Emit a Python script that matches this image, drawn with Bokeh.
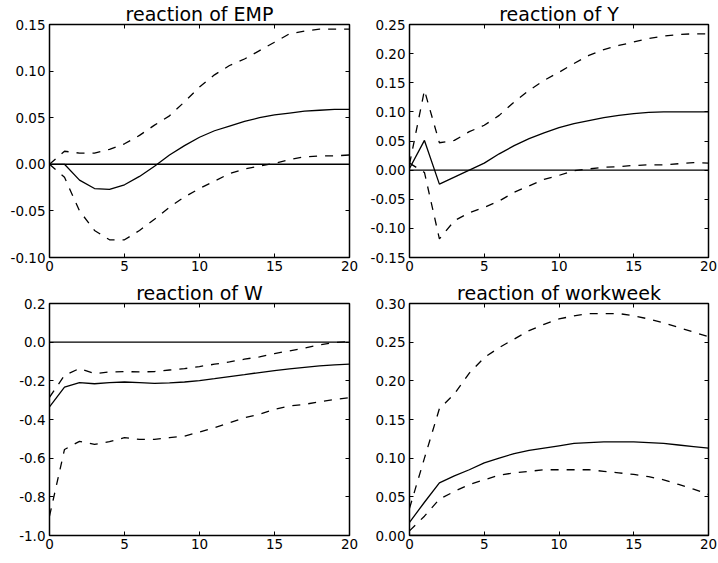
from bokeh.plotting import figure
from bokeh.layouts import gridplot
from bokeh.models import (Range1d, FixedTicker, LinearAxis, PrintfTickFormatter,
                          ColumnDataSource)
from bokeh.embed import file_html
from bokeh.resources import INLINE

steps = list(range(21))

emp_mid = [0, 0, -0.017, -0.026, -0.027, -0.022, -0.013, -0.002, 0.010, 0.020, 0.029,
           0.036, 0.041, 0.046, 0.050, 0.053, 0.055, 0.057, 0.058, 0.059, 0.059]
emp_hi = [0, 0.014, 0.012, 0.012, 0.016, 0.022, 0.031, 0.042, 0.052, 0.067, 0.083,
          0.096, 0.106, 0.113, 0.122, 0.131, 0.140, 0.143, 0.145, 0.145, 0.145]
emp_lo = [0, -0.014, -0.050, -0.071, -0.081, -0.081, -0.071, -0.059, -0.046, -0.035, -0.026,
          -0.018, -0.010, -0.005, -0.002, 0.001, 0.005, 0.008, 0.009, 0.009, 0.010]

y_mid = [0.003, 0.051, -0.024, -0.012, 0.0, 0.012, 0.028, 0.042, 0.054, 0.064, 0.073,
         0.080, 0.085, 0.090, 0.094, 0.097, 0.099, 0.100, 0.100, 0.100, 0.100]
y_hi = [0.010, 0.137, 0.047, 0.051, 0.066, 0.077, 0.094, 0.117, 0.137, 0.154, 0.168,
        0.183, 0.197, 0.207, 0.214, 0.220, 0.226, 0.230, 0.233, 0.234, 0.234]
y_lo = [0.012, -0.004, -0.118, -0.087, -0.073, -0.064, -0.053, -0.038, -0.027, -0.016, -0.009,
        -0.001, 0.002, 0.005, 0.006, 0.008, 0.009, 0.009, 0.011, 0.013, 0.012]

w_mid = [-0.335, -0.232, -0.209, -0.215, -0.209, -0.206, -0.209, -0.213, -0.211, -0.206, -0.199,
         -0.189, -0.178, -0.168, -0.157, -0.147, -0.138, -0.130, -0.123, -0.117, -0.114]
w_hi = [-0.285, -0.172, -0.136, -0.163, -0.154, -0.152, -0.154, -0.152, -0.144, -0.137, -0.126,
        -0.114, -0.102, -0.088, -0.076, -0.059, -0.045, -0.031, -0.014, -0.002, 0.003]
w_lo = [-0.900, -0.555, -0.513, -0.529, -0.515, -0.494, -0.503, -0.503, -0.494, -0.486, -0.465,
        -0.443, -0.417, -0.391, -0.373, -0.347, -0.330, -0.322, -0.308, -0.296, -0.287]

ww_mid = [0.017, 0.043, 0.068, 0.077, 0.085, 0.094, 0.100, 0.106, 0.110, 0.113, 0.116,
          0.119, 0.120, 0.121, 0.121, 0.121, 0.120, 0.119, 0.117, 0.115, 0.113]
ww_hi = [0.035, 0.100, 0.164, 0.183, 0.210, 0.230, 0.243, 0.254, 0.265, 0.273, 0.280,
         0.284, 0.287, 0.287, 0.287, 0.284, 0.280, 0.275, 0.269, 0.263, 0.257]
ww_lo = [0.006, 0.025, 0.047, 0.057, 0.066, 0.072, 0.078, 0.081, 0.083, 0.085, 0.085,
         0.085, 0.085, 0.083, 0.081, 0.079, 0.076, 0.072, 0.066, 0.060, 0.053]

titles = ["reaction of EMP", "reaction of Y", "reaction of W", "reaction of workweek"]
x_ticks = [0, 5, 10, 15, 20]
emp_ticks = [-0.10, -0.05, 0.0, 0.05, 0.10, 0.15]
y_ticks = [-0.15, -0.10, -0.05, 0.0, 0.05, 0.10, 0.15, 0.20, 0.25]
w_ticks = [-1.0, -0.8, -0.6, -0.4, -0.2, 0.0, 0.2]
ww_ticks = [0.0, 0.05, 0.10, 0.15, 0.20, 0.25, 0.30]

FONT = "DejaVu Sans"


def style_axis(ax, ticks, show_labels=True, standoff=4):
    ax.axis_line_color = None
    ax.major_tick_in = 4
    ax.major_tick_out = 0
    ax.minor_tick_in = 0
    ax.minor_tick_out = 0
    ax.major_tick_line_color = "black"
    ax.major_tick_line_width = 1
    ax.minor_tick_line_color = None
    if show_labels:
        ax.major_label_text_font = FONT
        ax.major_label_text_font_size = "13.5px"
        ax.major_label_text_color = "black"
        ax.major_label_standoff = standoff
    else:
        ax.major_label_overrides = {t: "" for t in ticks}
        ax.major_label_standoff = 0


def make_panel(title, yticks, fmt, mid, hi, lo, fw, fh, mbl, mbr, mbt, mbb):
    p = figure(frame_width=fw, frame_height=fh, output_backend="svg", toolbar_location=None,
               x_range=Range1d(0, 20), y_range=Range1d(yticks[0], yticks[-1]),
               min_border_left=mbl, min_border_right=mbr, min_border_top=mbt,
               min_border_bottom=mbb)
    p.title.text = title
    p.title.text_font = FONT
    p.title.text_font_size = "19px"
    p.title.text_font_style = "normal"
    p.title.text_color = "black"
    p.title.align = "center"
    p.title.standoff = 0
    p.title.offset = 0
    p.grid.visible = False
    p.outline_line_color = "black"
    p.outline_line_width = 1.5
    p.background_fill_color = "white"
    p.border_fill_color = "white"

    p.xaxis.ticker = FixedTicker(ticks=x_ticks)
    p.yaxis.ticker = FixedTicker(ticks=yticks)
    p.yaxis.formatter = PrintfTickFormatter(format=fmt)
    p.xaxis.formatter = PrintfTickFormatter(format="%d")
    style_axis(p.xaxis[0], x_ticks, standoff=3)
    style_axis(p.yaxis[0], yticks, standoff=4)

    top = LinearAxis(ticker=FixedTicker(ticks=x_ticks))
    style_axis(top, x_ticks, show_labels=False)
    p.add_layout(top, "above")
    right = LinearAxis(ticker=FixedTicker(ticks=yticks))
    style_axis(right, yticks, show_labels=False)
    p.add_layout(right, "right")

    src = ColumnDataSource(dict(x=steps, mid=mid, hi=hi, lo=lo, zero=[0.0] * len(steps)))
    p.line("x", "zero", source=src, line_color="black", line_width=1.4)
    p.line("x", "mid", source=src, line_color="black", line_width=1.3)
    p.line("x", "hi", source=src, line_color="black", line_width=1.3, line_dash="8 8")
    p.line("x", "lo", source=src, line_color="black", line_width=1.3, line_dash="8 8")
    return p


p1 = make_panel(titles[0], emp_ticks, "%.2f", emp_mid, emp_hi, emp_lo,
                300, 233, 49, 10, 24, 22)
p2 = make_panel(titles[1], y_ticks, "%.2f", y_mid, y_hi, y_lo,
                299, 233, 50, 10, 24, 22)
p3 = make_panel(titles[2], w_ticks, "%.1f", w_mid, w_hi, w_lo,
                300, 232, 49, 10, 24, 28)
p4 = make_panel(titles[3], ww_ticks, "%.2f", ww_mid, ww_hi, ww_lo,
                299, 232, 50, 10, 24, 28)

grid = gridplot([[p1, p2], [p3, p4]], toolbar_location=None)

open("out.html", "w").write(file_html(grid, INLINE))
